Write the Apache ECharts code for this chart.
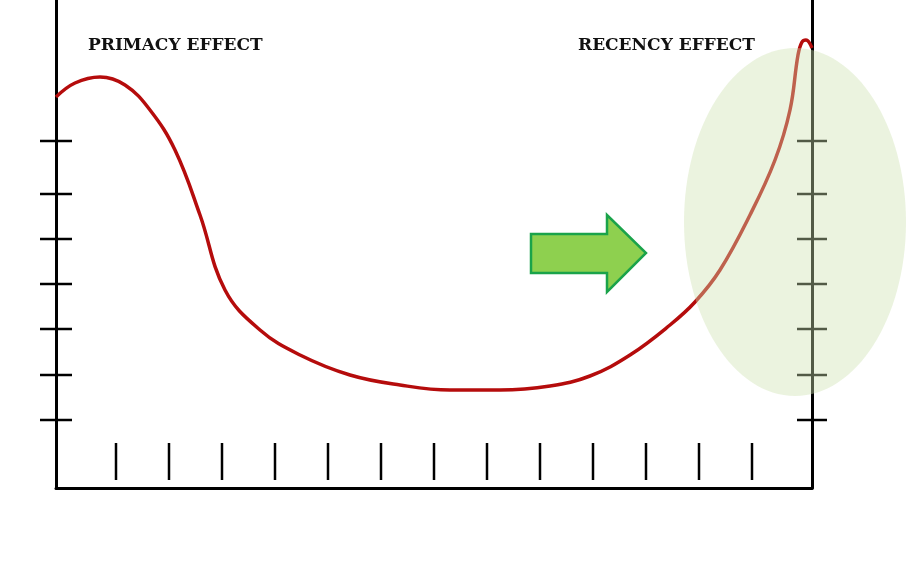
<!DOCTYPE html>
<html><head><meta charset="utf-8">
<script src="https://cdn.jsdelivr.net/npm/echarts@6/dist/echarts.min.js"></script>
<style>html,body{margin:0;background:#fff}#main{width:906px;height:578px}</style>
</head><body><div id="main"></div>
<script>
// curve points, in plot units (x: 0..756 left to right, y: 0..488 bottom to top)
var curveX = [0, 19, 44, 69, 94, 119, 144, 169, 204, 244, 294, 344, 394, 444, 494, 534, 574, 614, 639, 664, 694, 719, 734, 742, 746, 750, 756];
var curveY = [391, 405, 411, 403, 378, 338, 273, 198, 158, 133, 113, 103, 98, 98, 102, 112, 133, 163, 186, 218, 273, 328, 378, 433, 446, 448, 440];
var sideTicks = [68, 113, 159, 204, 249, 294, 347];
var bottomTicks = [60, 113, 166, 219, 272, 325, 378, 431, 484, 537, 590, 643, 696];

var dom = document.getElementById('main');
var myChart = echarts.init(dom);

var tickData = [];
sideTicks.forEach(function (v) { tickData.push([-16, v, 16, v]); tickData.push([741, v, 771, v]); });
bottomTicks.forEach(function (v) { tickData.push([v, 8, v, 45]); });

var option = {
    animation: false,
    grid: { left: 56, right: 94, top: 0, bottom: 90 },
    xAxis: { type: 'value', min: 0, max: 756, axisLine: { lineStyle: { color: '#000', width: 3 } }, axisTick: { show: false }, axisLabel: { show: false }, splitLine: { show: false } },
    yAxis: [
        { type: 'value', min: 0, max: 488, axisLine: { show: true, lineStyle: { color: '#000', width: 3 } }, axisTick: { show: false }, axisLabel: { show: false }, splitLine: { show: false } },
        { type: 'value', min: 0, max: 488, position: 'right', axisLine: { show: true, lineStyle: { color: '#000', width: 3 } }, axisTick: { show: false }, axisLabel: { show: false }, splitLine: { show: false } }
    ],
    series: [
        {
            type: 'custom', clip: false, silent: true, data: tickData,
            renderItem: function (params, api) {
                var a = api.coord([api.value(0), api.value(1)]);
                var b = api.coord([api.value(2), api.value(3)]);
                return { type: 'line', shape: { x1: a[0], y1: a[1], x2: b[0], y2: b[1] }, style: { stroke: '#000', lineWidth: 2.5 } };
            }
        },
        {
            type: 'line', smooth: 0.4, symbol: 'none',
            data: curveX.map(function (x, i) { return [x, curveY[i]]; }),
            lineStyle: { color: '#b50c0c', width: 3.5 }
        }
    ],
    graphic: [
        { type: 'ellipse', shape: { cx: 795, cy: 222, rx: 111, ry: 174 }, style: { fill: 'rgba(205,225,175,0.4)' }, z: 100 },
        { type: 'polygon', shape: { points: [[531, 234], [607, 234], [607, 215], [646, 253], [607, 292], [607, 273], [531, 273]] }, style: { fill: '#8ed04f', stroke: '#1aa34a', lineWidth: 2.5 }, z: 100 },
        { type: 'text', left: 88, top: 37, style: { text: 'PRIMACY EFFECT', font: 'bold 17px "DejaVu Serif", serif', fill: '#111' }, z: 101 },
        { type: 'text', left: 578, top: 37, style: { text: 'RECENCY EFFECT', font: 'bold 17px "DejaVu Serif", serif', fill: '#111' }, z: 101 }
    ]
};
myChart.setOption(option);
</script>
</body></html>
